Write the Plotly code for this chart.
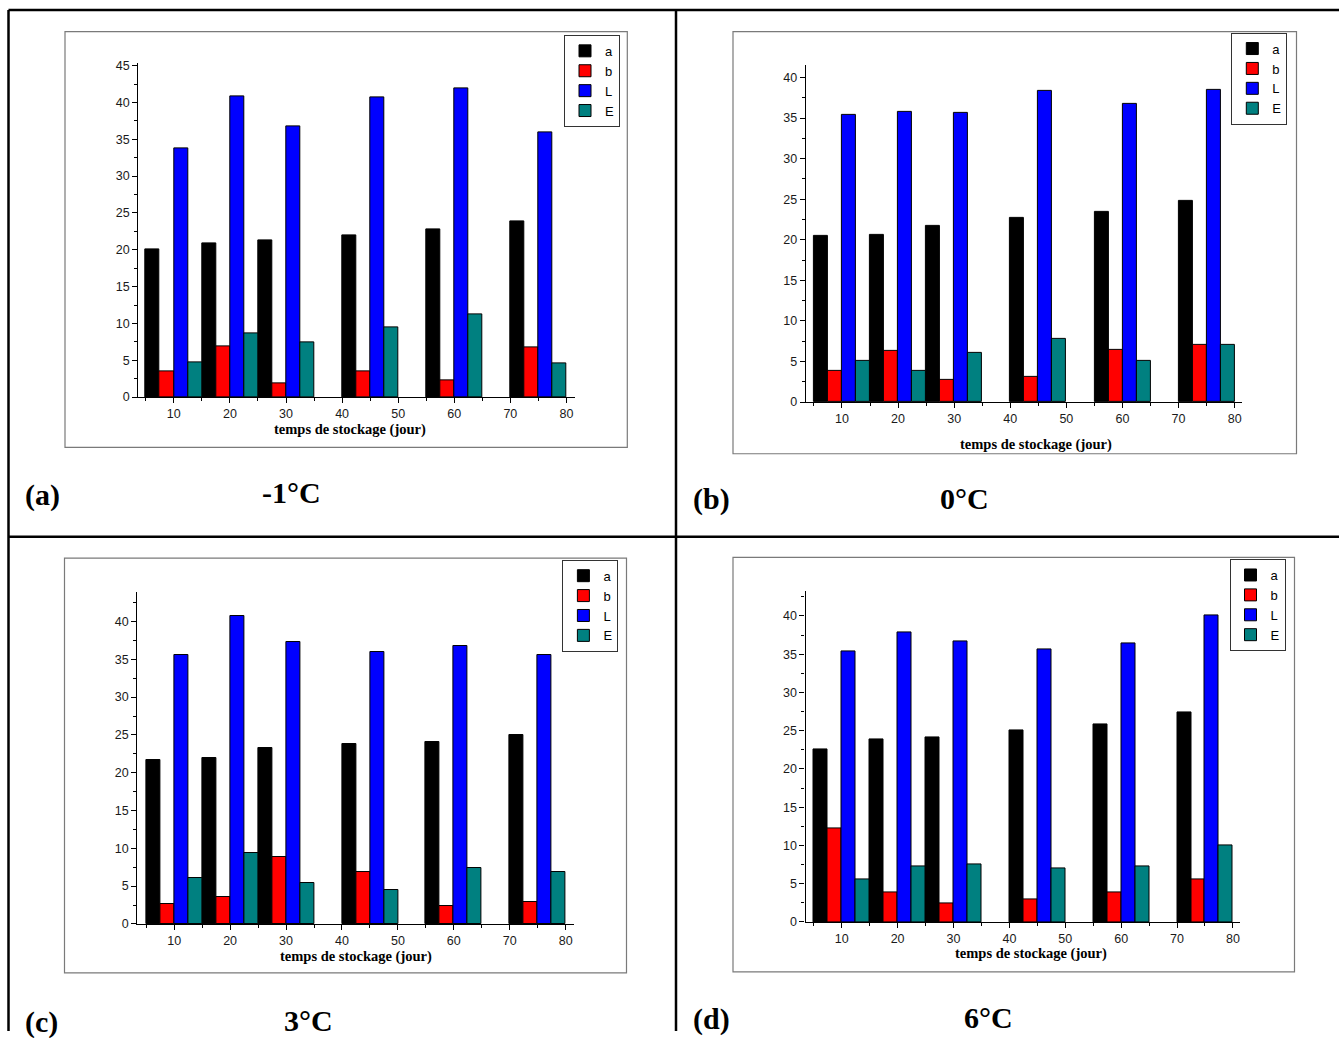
import plotly.graph_objects as go

# ---------------- data ----------------
days = [10, 20, 30, 45, 60, 75]
series_names = ["a", "b", "L", "E"]
series_colors = ["#000000", "#FF0000", "#0000FF", "#008080"]
x_tick_vals = [10, 20, 30, 40, 50, 60, 70, 80]
x_tick_text = ["10", "20", "30", "40", "50", "60", "70", "80"]

# -1 °C
a_m1 = [20.1, 20.8, 21.3, 22.0, 22.8, 23.8]
b_m1 = [3.5, 6.9, 1.9, 3.5, 2.2, 6.8]
L_m1 = [33.8, 40.8, 36.7, 40.7, 41.9, 36.0]
E_m1 = [4.7, 8.7, 7.4, 9.5, 11.2, 4.6]
# 0 °C
a_0 = [20.5, 20.6, 21.7, 22.7, 23.4, 24.8]
b_0 = [3.9, 6.3, 2.7, 3.1, 6.4, 7.0]
L_0 = [35.4, 35.8, 35.6, 38.4, 36.7, 38.5]
E_0 = [5.1, 3.9, 6.1, 7.8, 5.1, 7.1]
# 3 °C
a_3 = [21.7, 22.0, 23.3, 23.8, 24.1, 25.0]
b_3 = [2.6, 3.5, 8.8, 6.8, 2.4, 2.9]
L_3 = [35.6, 40.7, 37.3, 36.0, 36.7, 35.6]
E_3 = [6.1, 9.4, 5.4, 4.5, 7.4, 6.9]
# 6 °C
a_6 = [22.5, 23.8, 24.1, 25.0, 25.8, 27.4]
b_6 = [12.2, 3.8, 2.4, 2.9, 3.9, 5.6]
L_6 = [35.3, 37.9, 36.7, 35.6, 36.4, 40.0]
E_6 = [5.5, 7.3, 7.5, 7.0, 7.2, 10.0]

panel_letters = ["(a)", "(b)", "(c)", "(d)"]
panel_temps = ["-1°C", "0°C", "3°C", "6°C"]
x_title = "temps de stockage (jour)"

panels_data = [
    [a_m1, b_m1, L_m1, E_m1],
    [a_0, b_0, L_0, E_0],
    [a_3, b_3, L_3, E_3],
    [a_6, b_6, L_6, E_6],
]

# ---------------- layout (pixels) ----------------
W, H = 1339, 1038
px = lambda x: x / W
# vertical placement compensated for the capture's slight vertical squeeze
py = lambda y: max(0.0, min(1.0, 1 - ((y - 4.1) / 0.9897) / H))

# plot area: x0, x1, ytop, ybottom ; x range ; y range
areas = [
    dict(x0=138.3, x1=574.6, yt=63.5, yb=397.3, xr=[3.67, 81.45], yr=[0, 45.3]),
    dict(x0=805.9, x1=1242.3, yt=65.0, yb=402.3, xr=[3.57, 81.36], yr=[0, 41.56]),
    dict(x0=137.4, x1=573.5, yt=592.3, yb=924.3, xr=[3.42, 81.4], yr=[0, 43.9]),
    dict(x0=805.5, x1=1240.2, yt=591.7, yb=922.3, xr=[3.52, 81.3], yr=[0, 43.2]),
]
frames = [
    (65, 31.7, 627.3, 447.7),
    (733, 31.7, 1296.5, 454),
    (64.5, 558.3, 626.5, 973.3),
    (733, 557.7, 1294.5, 972.3),
]
legend_pos = [(620, 35), (1287.3, 32.7), (618.4, 560), (1285.5, 559.3)]
xtitle_pos = [(349.6, 430), (1036, 444.3), (356, 957.3), (1030.7, 954)]
letter_pos = [(23, 495), (691, 499), (23, 1022), (691, 1019)]
temp_pos = [(291, 493), (964, 499), (308, 1021), (988, 1018)]

fig = go.Figure()
tick_font = dict(family="Liberation Sans, Arial, sans-serif", size=12.5, color="#1a1a1a")

for i, (ar, data) in enumerate(zip(areas, panels_data)):
    sfx = "" if i == 0 else str(i + 1)
    leg = "legend" if i == 0 else f"legend{i + 1}"
    for name, col, vals in zip(series_names, series_colors, data):
        fig.add_trace(go.Bar(
            x=days, y=vals, name=name,
            marker=dict(color=col, line=dict(color="#000000", width=1)),
            xaxis="x" + sfx, yaxis="y" + sfx, legend=leg,
            offsetgroup=name,
        ))
    fig.layout["xaxis" + sfx] = dict(
        domain=[px(ar["x0"]), px(ar["x1"])], range=ar["xr"], anchor="y" + sfx,
        tickmode="array", tickvals=x_tick_vals, ticktext=x_tick_text,
        ticks="outside", ticklen=5, tickwidth=1, tickcolor="#000",
        minor=dict(tickmode="array", tickvals=[5, 15, 25, 35, 45, 55, 65, 75],
                   ticks="outside", ticklen=3, tickwidth=1, tickcolor="#000"),
        showline=True, linecolor="#000", linewidth=1.3, showgrid=False,
        zeroline=False, tickfont=tick_font, fixedrange=True,
    )
    fig.layout["yaxis" + sfx] = dict(
        domain=[py(ar["yb"]), py(ar["yt"])], range=ar["yr"], anchor="x" + sfx,
        dtick=5, tick0=0,
        ticks="outside", ticklen=5, tickwidth=1, tickcolor="#000",
        minor=dict(dtick=2.5, ticks="outside", ticklen=3, tickwidth=1, tickcolor="#000"),
        showline=True, linecolor="#000", linewidth=1.3, showgrid=False,
        zeroline=False, tickfont=tick_font, fixedrange=True,
    )
    lx, ly = legend_pos[i]
    fig.layout[leg] = dict(
        x=px(lx), y=py(ly), xanchor="right", yanchor="top",
        bordercolor="#333", borderwidth=1, bgcolor="white",
        font=dict(family="Liberation Sans, Arial, sans-serif", size=13, color="#000"),
        tracegroupgap=0, itemwidth=30,
    )

shapes = []
for (x0, y0, x1, y1) in frames:
    shapes.append(dict(type="rect", xref="paper", yref="paper",
                       x0=px(x0), x1=px(x1), y0=py(y1), y1=py(y0),
                       line=dict(color="#7a7a7a", width=1.2), layer="below"))
# cell borders
border = dict(color="#000", width=2.5)
shapes += [
    dict(type="line", xref="paper", yref="paper", x0=px(8.5), x1=1, y0=py(10), y1=py(10), line=border),
    dict(type="line", xref="paper", yref="paper", x0=px(8.5), x1=px(8.5), y0=py(10), y1=0, line=border),
    dict(type="line", xref="paper", yref="paper", x0=px(676), x1=px(676), y0=py(10), y1=0, line=border),
    dict(type="line", xref="paper", yref="paper", x0=px(8.5), x1=1, y0=py(537), y1=py(537), line=border),
]

annotations = []
serif_bold = "Liberation Serif, Times New Roman, serif"
for i in range(4):
    tx, ty = xtitle_pos[i]
    annotations.append(dict(text="<b>" + x_title + "</b>", xref="paper", yref="paper",
                            x=px(tx), y=py(ty), xanchor="center", yanchor="middle",
                            showarrow=False, font=dict(family=serif_bold, size=14.5, color="#000")))
    lx, ly = letter_pos[i]
    annotations.append(dict(text="<b>" + panel_letters[i] + "</b>", xref="paper", yref="paper",
                            x=px(lx), y=py(ly), xanchor="left", yanchor="middle",
                            showarrow=False, font=dict(family=serif_bold, size=30, color="#000")))
    cx, cy = temp_pos[i]
    annotations.append(dict(text="<b>" + panel_temps[i] + "</b>", xref="paper", yref="paper",
                            x=px(cx), y=py(cy), xanchor="center", yanchor="middle",
                            showarrow=False, font=dict(family=serif_bold, size=30, color="#000")))

fig.update_layout(
    width=W, height=H, margin=dict(l=0, r=0, t=0, b=0),
    paper_bgcolor="white", plot_bgcolor="white",
    barmode="group", bargap=0, bargroupgap=0,
    showlegend=True, shapes=shapes, annotations=annotations,
)

fig.write_html(
    "out.html",
    config={"displayModeBar": False},
    post_script="document.body.style.margin='0';document.body.style.padding='0';"
                "document.body.style.overflow='hidden';",
)
